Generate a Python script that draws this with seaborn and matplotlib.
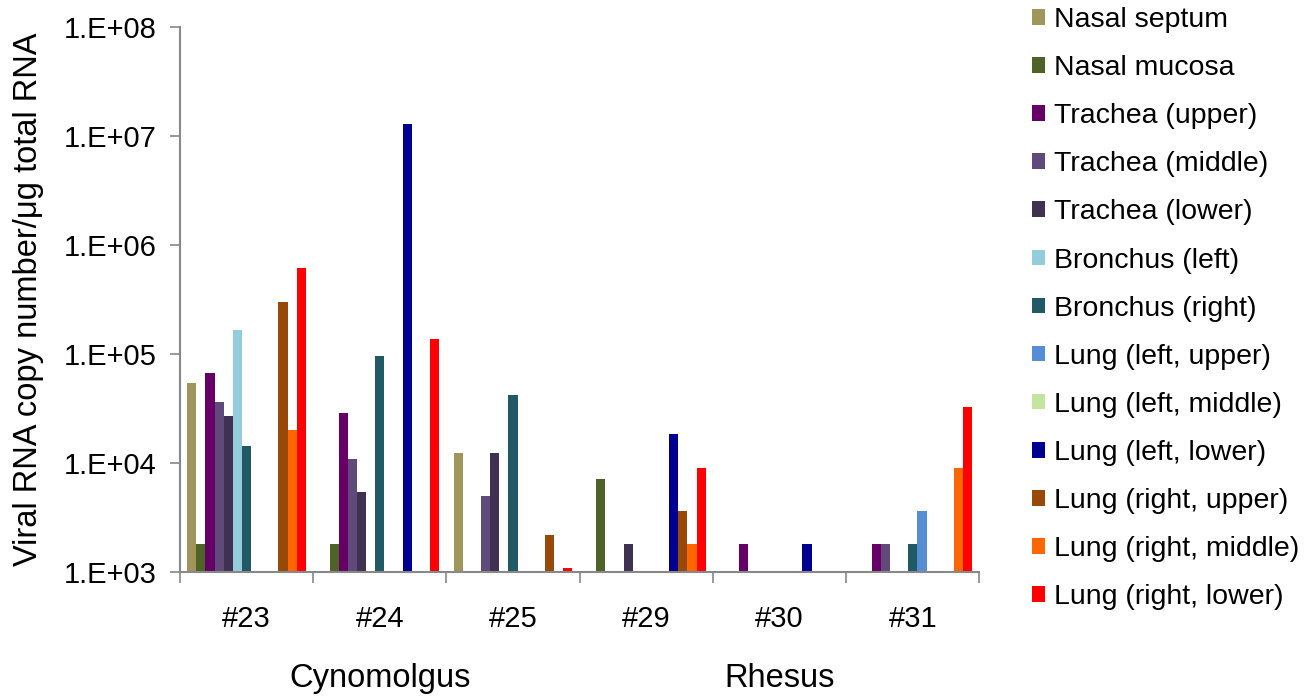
import numpy as np
import pandas as pd
import matplotlib
matplotlib.use('Agg')
import matplotlib.pyplot as plt
import seaborn as sns

# animals (groups) and tissues (series)
animals = ['#23', '#24', '#25', '#29', '#30', '#31']
species = ['Cynomolgus', 'Rhesus']

tissues = ['Nasal septum', 'Nasal mucosa', 'Trachea (upper)', 'Trachea (middle)',
           'Trachea (lower)', 'Bronchus (left)', 'Bronchus (right)',
           'Lung (left, upper)', 'Lung (left, middle)', 'Lung (left, lower)',
           'Lung (right, upper)', 'Lung (right, middle)', 'Lung (right, lower)']

nan = np.nan
nasal_septum = [5.4e4, nan, 1.23e4, nan, nan, nan]
nasal_mucosa = [1.8e3, 1.8e3, nan, 7.2e3, nan, nan]
trachea_upper = [6.7e4, 2.9e4, nan, nan, 1.8e3, 1.8e3]
trachea_middle = [3.6e4, 1.08e4, 5.0e3, nan, nan, 1.8e3]
trachea_lower = [2.7e4, 5.4e3, 1.23e4, 1.8e3, nan, nan]
bronchus_left = [1.66e5, nan, nan, nan, nan, nan]
bronchus_right = [1.44e4, 9.6e4, 4.2e4, nan, nan, 1.8e3]
lung_left_upper = [nan, nan, nan, nan, nan, 3.6e3]
lung_left_middle = [nan, nan, nan, nan, nan, nan]
lung_left_lower = [nan, 1.3e7, nan, 1.83e4, 1.8e3, nan]
lung_right_upper = [3.0e5, nan, 2.17e3, 3.6e3, nan, nan]
lung_right_middle = [2.0e4, nan, nan, 1.8e3, nan, 9.1e3]
lung_right_lower = [6.2e5, 1.37e5, 1.08e3, 9.1e3, nan, 3.3e4]

series = [nasal_septum, nasal_mucosa, trachea_upper, trachea_middle, trachea_lower,
          bronchus_left, bronchus_right, lung_left_upper, lung_left_middle,
          lung_left_lower, lung_right_upper, lung_right_middle, lung_right_lower]

colors = ['#a0955a', '#4f6228', '#660066', '#604a7b', '#403152', '#93cddd',
          '#215967', '#558ed5', '#c3e59f', '#000090', '#984807', '#ff6600', '#ff0000']

rows = []
for tissue, vals in zip(tissues, series):
    for animal, v in zip(animals, vals):
        rows.append({'animal': animal, 'tissue': tissue, 'value': v})
df = pd.DataFrame(rows)
df_bars = df.dropna()

sns.set_style('white')
plt.rcParams['font.family'] = ['Liberation Sans', 'DejaVu Sans']

fig = plt.figure(figsize=(13.13, 6.98), dpi=100)
ax = fig.add_axes([0.137, 0.1805, 0.609, 0.7805])

sns.barplot(data=df_bars, x='animal', y='value', hue='tissue', order=animals,
            hue_order=tissues, palette=colors, width=0.89, saturation=1,
            errorbar=None, ax=ax, legend=False, linewidth=0, edgecolor='none')

ax.set_yscale('log')
ax.set_ylim(1e3, 1e8)
ax.set_xlim(-0.5, len(animals) - 0.5)
decades = [1e3, 1e4, 1e5, 1e6, 1e7, 1e8]
ax.set_yticks(decades)
ax.set_yticklabels(['1.E+%02d' % int(np.log10(d)) for d in decades])
ax.yaxis.set_minor_locator(matplotlib.ticker.NullLocator())
ax.tick_params(axis='y', which='major', left=True, length=7, width=1.2,
               color='#888888', labelsize=21, pad=10, labelcolor='black')

ax.set_xticks(range(len(animals)))
ax.set_xticklabels(animals)
ax.set_xticks(np.arange(-0.5, len(animals)), minor=True)
ax.tick_params(axis='x', which='major', length=0, labelsize=21, pad=24,
               labelcolor='black')
ax.tick_params(axis='x', which='minor', bottom=True, length=8, width=1.2,
               color='#888888')

ax.set_xlabel('')
ax.set_ylabel('Viral RNA copy number/\u03bcg total RNA', fontsize=23.5,
              labelpad=14, color='black')

for s in ['top', 'right']:
    ax.spines[s].set_visible(False)
for s in ['left', 'bottom']:
    ax.spines[s].set_color('#888888')
    ax.spines[s].set_linewidth(1.5)

# species labels below animals
ax.text(1.0, -0.196, species[0], transform=ax.get_xaxis_transform(),
        ha='center', va='center', fontsize=23.5, color='black')
ax.text(4.0, -0.196, species[1], transform=ax.get_xaxis_transform(),
        ha='center', va='center', fontsize=23.5, color='black')

handles = [matplotlib.patches.Patch(facecolor=c, edgecolor='none') for c in colors]
leg = ax.legend(handles, tissues, loc='upper left', bbox_to_anchor=(0.777, 1.006),
                bbox_transform=fig.transFigure, frameon=False, fontsize=20.5,
                handlelength=0.47, handleheight=0.47, handletextpad=0.3,
                labelspacing=0.775, borderaxespad=0)
for t in leg.get_texts():
    t.set_color('black')

fig.savefig('out.png', dpi=100)
